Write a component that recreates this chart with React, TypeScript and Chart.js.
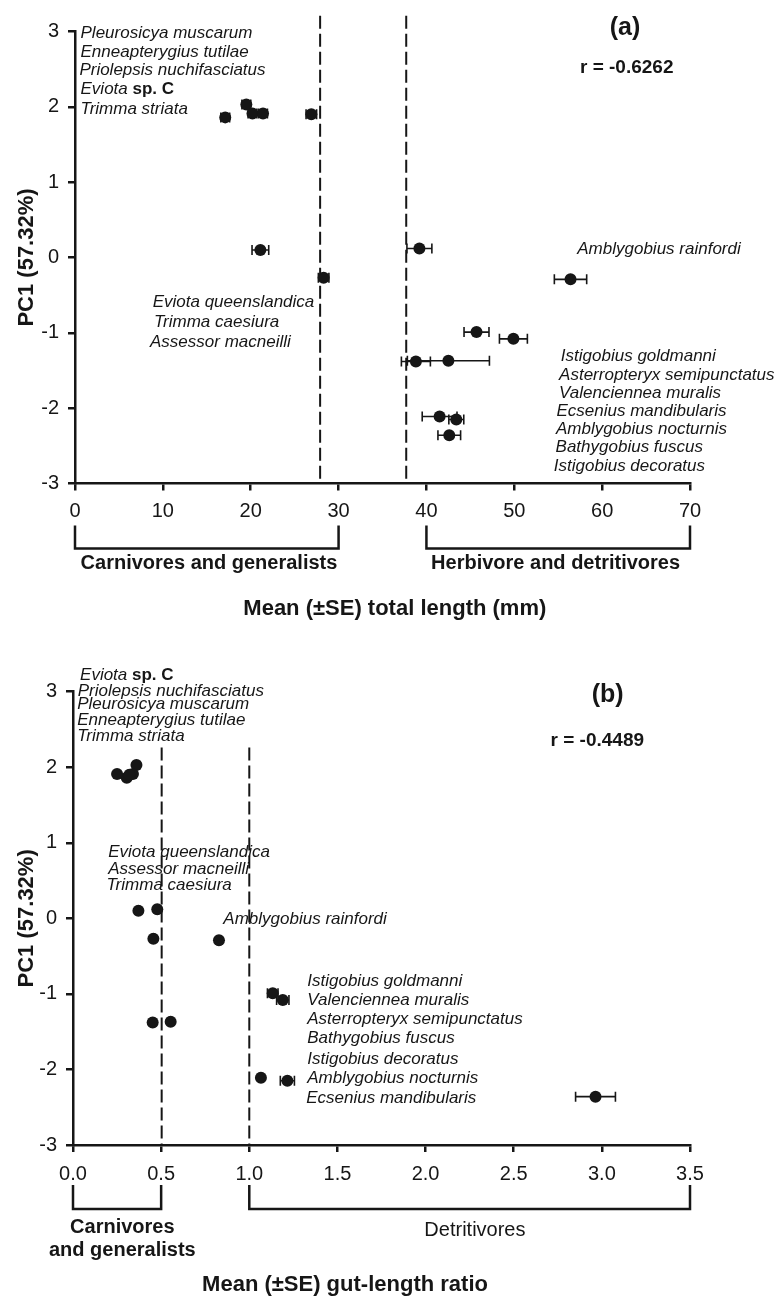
import React, { useEffect, useRef } from "react";
import { Chart, registerables } from "chart.js";

Chart.register(...registerables);

const FONT = "'Liberation Sans', Arial, Helvetica, sans-serif";
const INK = "#161616";

// ---- data (16 goby/blenny species) ----
const pc1Scores = [2.03, 1.86, 1.91, 1.91, 1.9, 0.1, 0.12, -0.27, -0.29, -0.99, -1.08, -1.38, -1.37, -2.11, -2.15, -2.36];
const totalLength = [19.5, 17.1, 20.2, 21.4, 26.9, 21.1, 39.2, 28.3, 56.4, 45.7, 49.9, 38.8, 42.5, 41.5, 43.4, 42.6];
const totalLengthSE = [0.5, 0.5, 0.5, 0.5, 0.6, 0.95, 1.42, 0.6, 1.84, 1.42, 1.59, 1.65, 4.67, 1.98, 0.85, 1.29];
const gutRatio = [0.36, 0.305, 0.25, 0.34, 0.32, 0.371, 0.478, 0.456, 0.828, 1.133, 1.19, 0.452, 0.554, 1.066, 1.216, 2.964];
const gutRatioSE = [0.01, 0.01, 0.01, 0.01, 0.01, 0.01, 0.01, 0.01, 0.01, 0.03, 0.035, 0.01, 0.01, 0.01, 0.04, 0.113];

// ---- text ----
const yTitle = "PC1 (57.32%)";
const titleA = "Mean (\u00B1SE) total length (mm)";
const titleB = "Mean (\u00B1SE) gut-length ratio";
const rA = "r = -0.6262";
const rB = "r = -0.4489";

const namesA = [
  "Pleurosicya muscarum", "Enneapterygius tutilae", "Priolepsis nuchifasciatus", "Eviota sp. C", "Trimma striata",
  "Eviota queenslandica", "Trimma caesiura", "Assessor macneilli",
  "Amblygobius rainfordi",
  "Istigobius goldmanni", "Asterropteryx semipunctatus", "Valenciennea muralis", "Ecsenius mandibularis",
  "Amblygobius nocturnis", "Bathygobius fuscus", "Istigobius decoratus",
];
const namesB = [
  "Eviota sp. C", "Priolepsis nuchifasciatus", "Pleurosicya muscarum", "Enneapterygius tutilae", "Trimma striata",
  "Eviota queenslandica", "Assessor macneilli", "Trimma caesiura",
  "Amblygobius rainfordi",
  "Istigobius goldmanni", "Valenciennea muralis", "Asterropteryx semipunctatus", "Bathygobius fuscus",
  "Istigobius decoratus", "Amblygobius nocturnis", "Ecsenius mandibularis",
];

// ---- layout (anchor positions in data units) ----
const nameXA = [0.63, 0.63, 0.5, 0.63, 0.63, 8.84, 8.99, 8.54, 57.17, 55.3, 55.1, 55.1, 54.8, 54.74, 54.7, 54.5];
const nameYA = [2.97, 2.72, 2.48, 2.23, 1.97, -0.6, -0.86, -1.13, 0.11, -1.31, -1.56, -1.8, -2.04, -2.28, -2.52, -2.77];
const nameXB = [0.04, 0.027, 0.024, 0.024, 0.024, 0.2, 0.2, 0.19, 0.853, 1.329, 1.329, 1.329, 1.329, 1.329, 1.329, 1.323];
const nameYB = [3.22, 3.01, 2.83, 2.62, 2.41, 0.874, 0.654, 0.442, -0.013, -0.83, -1.08, -1.34, -1.59, -1.86, -2.12, -2.38];

type Bracket = { from: number; to: number; labelX: number; lines: string[]; bold: boolean; dy: number };
type Spec = {
  canvasH: number;
  area: { left: number; top: number; right: number; bottom: number };
  xMax: number;
  xStep: number;
  decimals: number;
  tickPad: number;
  xs: number[];
  xse: number[];
  names: string[];
  nameX: number[];
  nameY: number[];
  dividers: number[];
  dividerTop: number;
  brackets: Bracket[];
  bracketTop: number;
  bracketBottom: number;
  title: string;
  titleX: number;
  titleDy: number;
  letter: string;
  letterPos: [number, number];
  r: string;
  rPos: [number, number];
};

const specA: Spec = {
  canvasH: 650,
  area: { left: 75, top: 31.5, right: 690, bottom: 483.5 },
  xMax: 70,
  xStep: 10,
  decimals: 0,
  tickPad: 9,
  xs: totalLength,
  xse: totalLengthSE,
  names: namesA,
  nameX: nameXA,
  nameY: nameYA,
  dividers: [27.9, 37.7],
  dividerTop: 3.21,
  brackets: [
    { from: 0, to: 30, labelX: 15.25, lines: ["Carnivores and generalists"], bold: true, dy: 80 },
    { from: 40, to: 70, labelX: 54.7, lines: ["Herbivore and detritivores"], bold: true, dy: 80 },
  ],
  bracketTop: 42,
  bracketBottom: 65,
  title: titleA,
  titleX: 36.4,
  titleDy: 125,
  letter: "(a)",
  letterPos: [62.6, 3.05],
  r: rA,
  rPos: [62.8, 2.52],
};

const specB: Spec = {
  canvasH: 648,
  area: { left: 73, top: 41.7, right: 690, bottom: 495 },
  xMax: 3.5,
  xStep: 0.5,
  decimals: 1,
  tickPad: 10,
  xs: gutRatio,
  xse: gutRatioSE,
  names: namesB,
  nameX: nameXB,
  nameY: nameYB,
  dividers: [0.503, 1.0],
  dividerTop: 2.26,
  brackets: [
    { from: 0, to: 0.5, labelX: 0.28, lines: ["Carnivores", "and generalists"], bold: true, dy: 82 },
    { from: 1.0, to: 3.5, labelX: 2.28, lines: ["Detritivores"], bold: false, dy: 85 },
  ],
  bracketTop: 40,
  bracketBottom: 64,
  title: titleB,
  titleX: 1.543,
  titleDy: 140,
  letter: "(b)",
  letterPos: [3.033, 2.96],
  r: rB,
  rPos: [2.974, 2.35],
};

function drawName(ctx: CanvasRenderingContext2D, text: string, px: number, py: number) {
  ctx.textAlign = "left";
  ctx.textBaseline = "middle";
  const idx = text.indexOf(" sp. ");
  if (idx >= 0) {
    const genus = text.slice(0, idx + 1);
    const rest = text.slice(idx + 1);
    ctx.font = `italic 17px ${FONT}`;
    ctx.fillText(genus, px, py);
    const w = ctx.measureText(genus).width;
    ctx.font = `bold 17px ${FONT}`;
    ctx.fillText(rest, px + w, py);
  } else {
    ctx.font = `italic 17px ${FONT}`;
    ctx.fillText(text, px, py);
  }
}

function makePlugin(s: Spec) {
  return {
    id: "decor",
    beforeDatasetsDraw(chart: any) {
      const { ctx, chartArea } = chart;
      const x = chart.scales.x;
      const y = chart.scales.y;
      ctx.save();
      ctx.strokeStyle = INK;
      ctx.lineWidth = 2;
      ctx.setLineDash([13, 5]);
      for (const d of s.dividers) {
        const px = x.getPixelForValue(d);
        ctx.beginPath();
        ctx.moveTo(px, y.getPixelForValue(s.dividerTop));
        ctx.lineTo(px, chartArea.bottom);
        ctx.stroke();
      }
      ctx.setLineDash([]);
      ctx.lineWidth = 1.6;
      s.xs.forEach((v, i) => {
        const se = s.xse[i];
        const py = y.getPixelForValue(pc1Scores[i]);
        const l = x.getPixelForValue(v - se);
        const r = x.getPixelForValue(v + se);
        ctx.beginPath();
        ctx.moveTo(l, py);
        ctx.lineTo(r, py);
        ctx.moveTo(l, py - 5);
        ctx.lineTo(l, py + 5);
        ctx.moveTo(r, py - 5);
        ctx.lineTo(r, py + 5);
        ctx.stroke();
      });
      ctx.restore();
    },
    afterDraw(chart: any) {
      const { ctx, chartArea } = chart;
      const x = chart.scales.x;
      const y = chart.scales.y;
      ctx.save();
      ctx.fillStyle = INK;
      ctx.strokeStyle = INK;
      // species names
      s.names.forEach((n, i) => {
        drawName(ctx, n, x.getPixelForValue(s.nameX[i]), y.getPixelForValue(s.nameY[i]));
      });
      // panel letter and r
      ctx.textAlign = "center";
      ctx.textBaseline = "middle";
      ctx.font = `bold 25px ${FONT}`;
      ctx.fillText(s.letter, x.getPixelForValue(s.letterPos[0]), y.getPixelForValue(s.letterPos[1]));
      ctx.font = `bold 19px ${FONT}`;
      ctx.fillText(s.r, x.getPixelForValue(s.rPos[0]), y.getPixelForValue(s.rPos[1]));
      // brackets
      const b = chartArea.bottom;
      ctx.lineWidth = 2.5;
      for (const br of s.brackets) {
        const l = x.getPixelForValue(br.from);
        const r = x.getPixelForValue(br.to);
        ctx.beginPath();
        ctx.moveTo(l, b + s.bracketTop);
        ctx.lineTo(l, b + s.bracketBottom);
        ctx.lineTo(r, b + s.bracketBottom);
        ctx.lineTo(r, b + s.bracketTop);
        ctx.stroke();
        ctx.font = `${br.bold ? "bold " : ""}20px ${FONT}`;
        br.lines.forEach((ln, k) => {
          ctx.fillText(ln, x.getPixelForValue(br.labelX), b + br.dy + k * 23);
        });
      }
      // x title
      ctx.font = `bold 22px ${FONT}`;
      ctx.fillText(s.title, x.getPixelForValue(s.titleX), b + s.titleDy);
      // y title
      ctx.translate(27, (chartArea.top + chartArea.bottom) / 2);
      ctx.rotate(-Math.PI / 2);
      ctx.fillText(yTitle, 0, 0);
      ctx.restore();
    },
  };
}

function Panel({ spec, top }: { spec: Spec; top: number }) {
  const ref = useRef<HTMLCanvasElement>(null);
  useEffect(() => {
    const s = spec;
    const chart = new Chart(ref.current as HTMLCanvasElement, {
      type: "scatter",
      data: {
        datasets: [
          {
            data: s.xs.map((v, i) => ({ x: v, y: pc1Scores[i] })),
            backgroundColor: INK,
            borderColor: INK,
            borderWidth: 0,
            pointRadius: 6,
            pointHoverRadius: 6,
          },
        ],
      },
      options: {
        responsive: false,
        animation: false,
        events: [],
        layout: {
          padding: { left: 0, top: s.area.top, right: 781 - s.area.right, bottom: 0 },
        },
        plugins: { legend: { display: false }, tooltip: { enabled: false } },
        scales: {
          x: {
            type: "linear",
            min: 0,
            max: s.xMax,
            afterFit: (sc: any) => {
              sc.height = s.canvasH - s.area.bottom;
            },
            ticks: {
              stepSize: s.xStep,
              color: INK,
              padding: s.tickPad,
              maxRotation: 0,
              font: { family: FONT, size: 20 },
              callback: (v: any) => Number(v).toFixed(s.decimals),
            },
            grid: { drawOnChartArea: false, drawTicks: true, tickLength: 7, color: INK, lineWidth: 2.5 },
            border: { display: true, color: INK, width: 2.5 },
          },
          y: {
            type: "linear",
            min: -3,
            max: 3,
            afterFit: (sc: any) => {
              sc.width = s.area.left;
            },
            ticks: {
              stepSize: 1,
              color: INK,
              padding: 9,
              font: { family: FONT, size: 20 },
            },
            grid: { drawOnChartArea: false, drawTicks: true, tickLength: 7, color: INK, lineWidth: 2.5 },
            border: { display: true, color: INK, width: 2.5 },
          },
        },
      },
      plugins: [makePlugin(s)],
    } as any);
    return () => chart.destroy();
  }, [spec]);
  return (
    <canvas
      ref={ref}
      width={781}
      height={spec.canvasH}
      style={{ position: "absolute", left: 0, top, width: 781, height: spec.canvasH }}
    />
  );
}

export default function App() {
  return (
    <div style={{ position: "absolute", left: 0, top: 0, width: 781, height: 1298, background: "#fff" }}>
      <Panel spec={specA} top={0} />
      <Panel spec={specB} top={650} />
    </div>
  );
}
